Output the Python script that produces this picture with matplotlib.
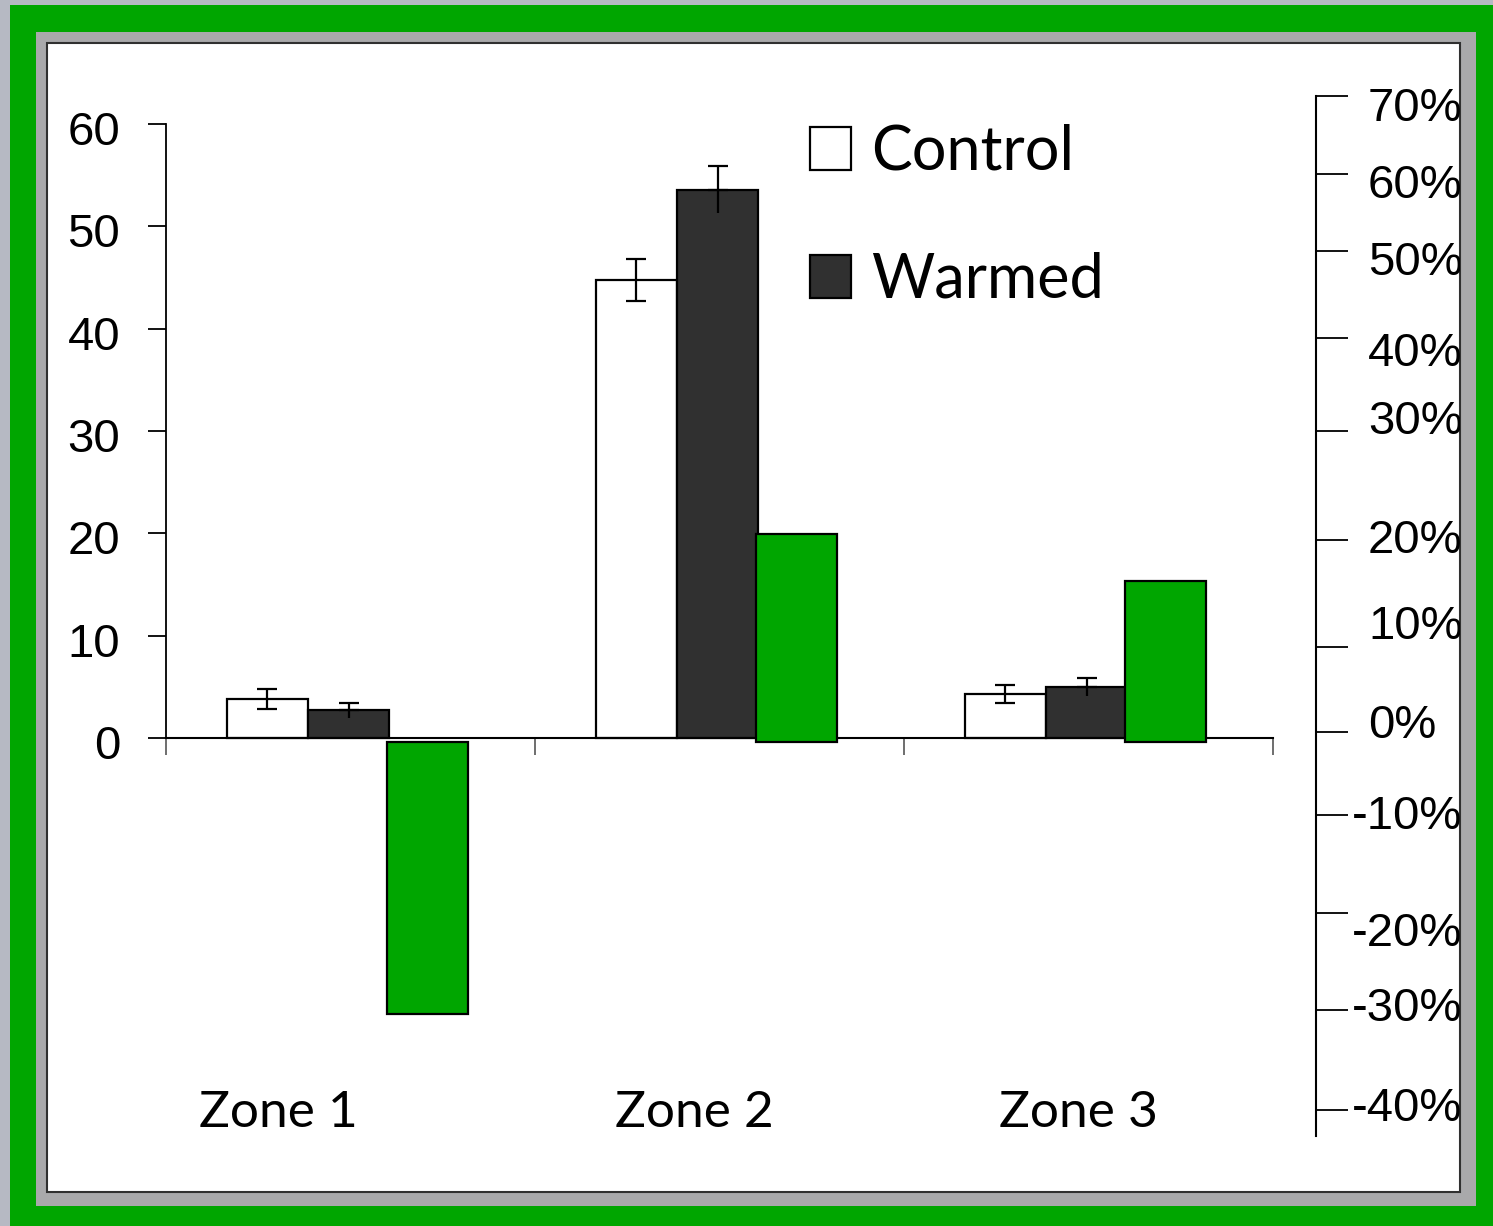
import matplotlib
matplotlib.use("Agg")
from matplotlib import pyplot as plt
from matplotlib.patches import Rectangle, Patch
from matplotlib import transforms
import numpy as np

# data (left axis units)
zones = ['Zone 1', 'Zone 2', 'Zone 3']
control = [3.8, 44.8, 4.3]
control_err = [0.95, 2.05, 0.9]
warmed = [2.7, 53.6, 5.0]
warmed_err = [0.7, 2.3, 0.9]
# green change bars, drawn in left-axis units from a base just under zero
change = [-27.0, 19.9, 15.3]
change_base = -0.4

# right hand percent axis (hand spaced in the original)
pct_labels = ['70%', '60%', '50%', '40%', '30%', '20%', '10%', '0%',
              '-10%', '-20%', '-30%', '-40%']
pct_tick_pos = [62.74, 55.11, 47.59, 39.09, 30.0, 19.35, 8.89, 0.59,
                -7.52, -17.10, -26.58, -36.35]
pct_label_pos = [61.46, 53.93, 46.41, 37.52, 30.87, 19.24, 10.84, 1.16,
                 -7.73, -19.16, -26.49, -36.26]

W, H = 1493, 1226
fig = plt.figure(figsize=(W / 100, H / 100), dpi=100)
fig.patch.set_facecolor('#b6b9c3')


def px_rect(x0, y0, x1, y1, z, **kw):
    r = Rectangle((x0 / W, 1 - y1 / H), (x1 - x0) / W, (y1 - y0) / H,
                  transform=fig.transFigure, zorder=z, **kw)
    fig.patches.append(r)
    return r


px_rect(10, 5, W + 5, H + 5, -3, facecolor='#00a600', edgecolor='none')
px_rect(36, 32, 1476, 1206, -2, facecolor='#a9a9ab', edgecolor='none')
panel = px_rect(47, 43, 1460, 1192, -1, facecolor='white', edgecolor='#303030', lw=1.5)

ax = fig.add_axes([166 / W, (H - 1136) / H, (1273 - 166) / W, (1136 - 96) / H])
ax.patch.set_visible(False)
ax.set_xlim(-0.5, 2.5)
ax.set_ylim(-38.89, 62.74)

x = np.arange(len(zones))
bw = 0.22
ax.bar(x - 0.225, control, bw, color='white', edgecolor='black', lw=1.6, zorder=2)
ax.errorbar(x - 0.225, control, yerr=control_err, fmt='none', ecolor='black',
            elinewidth=1.6, capsize=7, capthick=1.6, zorder=3)
ax.bar(x - 0.005, warmed, bw, color='#303030', edgecolor='black', lw=1.6, zorder=2)
ax.vlines(x - 0.005, np.array(warmed) - np.array(warmed_err), warmed,
          color='black', lw=1.6, zorder=3)
ax.errorbar(x - 0.005, warmed, yerr=[np.zeros(3), warmed_err], fmt='none',
            ecolor='black', elinewidth=1.6, capsize=7, capthick=1.6, zorder=3)
ax.bar(x + 0.208, np.array(change) - change_base, bw, bottom=change_base,
       color='#00a600', edgecolor='black', lw=1.6, zorder=4)

# left axis
for s in ['top', 'right']:
    ax.spines[s].set_visible(False)
ax.spines['left'].set_bounds(0, 60)
ax.spines['left'].set_linewidth(1.3)
ax.spines['bottom'].set_position(('data', 0))
ax.spines['bottom'].set_bounds(-0.5, 2.5)
ax.spines['bottom'].set_linewidth(1.5)
ax.set_yticks(np.arange(0, 61, 10))
ax.tick_params(axis='y', direction='out', length=13, width=1.3, pad=20,
               labelsize=34)
ax.set_xticks([-0.5, 0.5, 1.5, 2.5])
ax.set_xticklabels([])
ax.tick_params(axis='x', direction='out', length=12, width=1.2, color='#555555')
shift = transforms.ScaledTranslation(0, -4 / 100, fig.dpi_scale_trans)
for t in ax.get_yticklabels():
    t.set_fontfamily('Liberation Sans')
    t.set_transform(t.get_transform() + shift)

for i, z in enumerate(zones):
    ax.text(i + [-0.196, -0.069, -0.027][i], -38.0, z, ha='center',
            va='baseline', fontsize=37, family='Lato', clip_on=False)

# right axis
ax2 = ax.twinx()
ax2.set_ylim(ax.get_ylim())
for s in ['top', 'left', 'bottom']:
    ax2.spines[s].set_visible(False)
ax2.spines['right'].set_position(('axes', (1316 - 166) / (1273 - 166)))
ax2.spines['right'].set_linewidth(1.5)
ax2.set_yticks(pct_tick_pos)
ax2.set_yticklabels([])
ax2.tick_params(axis='y', direction='out', length=23, width=1.3)
tr = transforms.blended_transform_factory(fig.transFigure, ax.transData)
for lab, yp in zip(pct_labels, pct_label_pos):
    xs = 1352 if lab.startswith('-') else 1368
    t = fig.text(xs / W, yp, lab, transform=tr, ha='left', va='center',
                 fontsize=34, family='Liberation Sans')
    t.set_clip_on(True)
    t.set_clip_path(panel)

handles = [Patch(facecolor='white', edgecolor='black', lw=1.6),
           Patch(facecolor='#303030', edgecolor='black', lw=1.6)]
ax.legend(handles, ['Control', 'Warmed'], loc='upper left',
          bbox_to_anchor=(810 / W, 1 - 124 / H), bbox_transform=fig.transFigure,
          frameon=False, prop={'family': 'Lato', 'size': 44},
          handlelength=0.67, handleheight=0.69, handletextpad=0.33,
          labelspacing=1.16, borderpad=0, borderaxespad=0)

plt.savefig('out.png', dpi=100)
